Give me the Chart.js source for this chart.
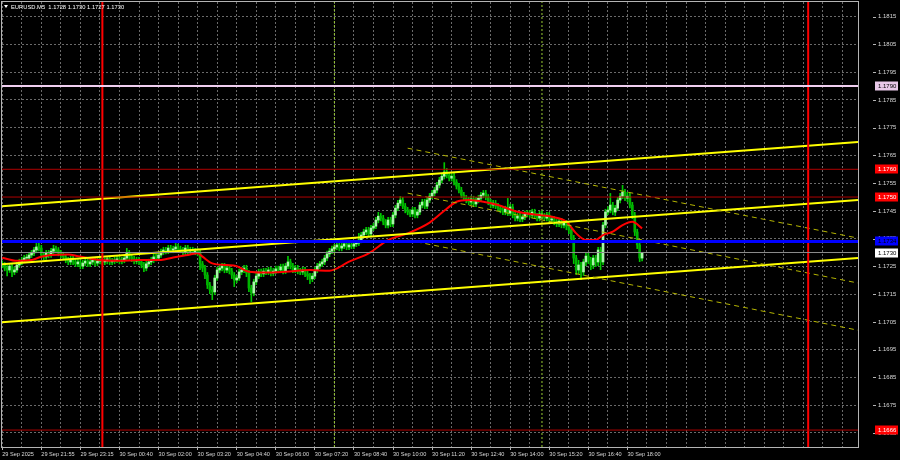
<!DOCTYPE html>
<html><head><meta charset="utf-8">
<script src="https://cdn.jsdelivr.net/npm/chart.js@4.4.1/dist/chart.umd.min.js"></script>
<style>html,body{margin:0;padding:0;background:#000;}#wrap{width:900px;height:460px;}</style>
</head><body><div id="wrap"><canvas id="c" width="900" height="460"></canvas></div>
<script>
// ---- DATA (EURUSD M5, one entry per bar) ----
const closes = [
1.17255,1.17244,1.17237,1.17251,1.17230,1.17237,1.17255,1.17266,1.17273,1.17280,
1.17280,1.17291,1.17298,1.17309,1.17320,1.17316,1.17291,1.17284,1.17298,1.17291,
1.17305,1.17313,1.17309,1.17298,1.17291,1.17284,1.17273,1.17266,1.17277,1.17266,
1.17259,1.17266,1.17251,1.17262,1.17269,1.17259,1.17266,1.17273,1.17262,1.17269,
1.17273,1.17266,1.17269,1.17277,1.17266,1.17269,1.17273,1.17277,1.17269,1.17273,
1.17280,1.17298,1.17284,1.17277,1.17269,1.17273,1.17266,1.17255,1.17244,1.17259,
1.17266,1.17273,1.17284,1.17280,1.17291,1.17302,1.17309,1.17305,1.17316,1.17309,
1.17313,1.17320,1.17313,1.17309,1.17302,1.17316,1.17305,1.17309,1.17302,1.17305,
1.17298,1.17259,1.17244,1.17219,1.17183,1.17165,1.17158,1.17208,1.17237,1.17244,
1.17251,1.17237,1.17244,1.17233,1.17219,1.17201,1.17208,1.17230,1.17237,1.17244,
1.17226,1.17172,1.17154,1.17194,1.17215,1.17230,1.17223,1.17233,1.17230,1.17237,
1.17226,1.17233,1.17241,1.17237,1.17248,1.17233,1.17251,1.17266,1.17251,1.17237,
1.17244,1.17233,1.17230,1.17237,1.17223,1.17215,1.17205,1.17215,1.17237,1.17251,
1.17259,1.17266,1.17280,1.17295,1.17305,1.17313,1.17320,1.17327,1.17316,1.17323,
1.17331,1.17320,1.17327,1.17323,1.17331,1.17334,1.17345,1.17363,1.17374,1.17381,
1.17367,1.17388,1.17395,1.17417,1.17431,1.17424,1.17410,1.17399,1.17417,1.17403,
1.17435,1.17460,1.17478,1.17489,1.17467,1.17453,1.17446,1.17439,1.17453,1.17435,
1.17446,1.17471,1.17482,1.17467,1.17489,1.17503,1.17514,1.17525,1.17543,1.17561,
1.17575,1.17590,1.17579,1.17568,1.17575,1.17554,1.17539,1.17525,1.17507,1.17496,
1.17489,1.17482,1.17493,1.17475,1.17489,1.17496,1.17507,1.17514,1.17500,1.17482,
1.17471,1.17478,1.17467,1.17460,1.17453,1.17446,1.17457,1.17442,1.17464,1.17435,
1.17424,1.17431,1.17421,1.17428,1.17439,1.17442,1.17435,1.17446,1.17431,1.17424,
1.17439,1.17431,1.17424,1.17435,1.17417,1.17421,1.17410,1.17403,1.17413,1.17399,
1.17406,1.17395,1.17381,1.17352,1.17280,1.17237,1.17255,1.17230,1.17266,1.17287,
1.17273,1.17255,1.17280,1.17266,1.17309,1.17266,1.17399,1.17446,1.17453,1.17471,
1.17446,1.17460,1.17489,1.17503,1.17518,1.17496,1.17503,1.17471,1.17435,1.17374,
1.17327,1.17280,1.17300];
const opens = [
1.17260,1.17255,1.17244,1.17237,1.17251,1.17230,1.17237,1.17255,1.17266,1.17273,
1.17280,1.17280,1.17291,1.17298,1.17309,1.17320,1.17316,1.17291,1.17284,1.17298,
1.17291,1.17305,1.17313,1.17309,1.17298,1.17291,1.17284,1.17273,1.17266,1.17277,
1.17266,1.17259,1.17266,1.17251,1.17262,1.17269,1.17259,1.17266,1.17273,1.17262,
1.17269,1.17273,1.17266,1.17269,1.17277,1.17266,1.17269,1.17273,1.17277,1.17269,
1.17273,1.17280,1.17298,1.17284,1.17277,1.17269,1.17273,1.17266,1.17255,1.17244,
1.17259,1.17266,1.17273,1.17284,1.17280,1.17291,1.17302,1.17309,1.17305,1.17316,
1.17309,1.17313,1.17320,1.17313,1.17309,1.17302,1.17316,1.17305,1.17309,1.17302,
1.17305,1.17298,1.17259,1.17244,1.17219,1.17183,1.17165,1.17158,1.17208,1.17237,
1.17244,1.17251,1.17237,1.17244,1.17233,1.17219,1.17201,1.17208,1.17230,1.17237,
1.17244,1.17226,1.17172,1.17154,1.17194,1.17215,1.17230,1.17223,1.17233,1.17230,
1.17237,1.17226,1.17233,1.17241,1.17237,1.17248,1.17233,1.17251,1.17266,1.17251,
1.17237,1.17244,1.17233,1.17230,1.17237,1.17223,1.17215,1.17205,1.17215,1.17237,
1.17251,1.17259,1.17266,1.17280,1.17295,1.17305,1.17313,1.17320,1.17327,1.17316,
1.17323,1.17331,1.17320,1.17327,1.17323,1.17331,1.17334,1.17345,1.17363,1.17374,
1.17381,1.17367,1.17388,1.17395,1.17417,1.17431,1.17424,1.17410,1.17399,1.17417,
1.17403,1.17435,1.17460,1.17478,1.17489,1.17467,1.17453,1.17446,1.17439,1.17453,
1.17435,1.17446,1.17471,1.17482,1.17467,1.17489,1.17503,1.17514,1.17525,1.17543,
1.17561,1.17575,1.17590,1.17579,1.17568,1.17575,1.17554,1.17539,1.17525,1.17507,
1.17496,1.17489,1.17482,1.17493,1.17475,1.17489,1.17496,1.17507,1.17514,1.17500,
1.17482,1.17471,1.17478,1.17467,1.17460,1.17453,1.17446,1.17457,1.17442,1.17464,
1.17435,1.17424,1.17431,1.17421,1.17428,1.17439,1.17442,1.17435,1.17446,1.17431,
1.17424,1.17439,1.17431,1.17424,1.17435,1.17417,1.17421,1.17410,1.17403,1.17413,
1.17399,1.17406,1.17395,1.17381,1.17352,1.17280,1.17237,1.17255,1.17230,1.17266,
1.17287,1.17273,1.17255,1.17280,1.17266,1.17309,1.17266,1.17399,1.17446,1.17453,
1.17471,1.17446,1.17460,1.17489,1.17503,1.17518,1.17496,1.17503,1.17471,1.17435,
1.17374,1.17327,1.17280];
const highs = [
1.17270,1.17264,1.17253,1.17261,1.17260,1.17247,1.17265,1.17276,1.17283,1.17290,
1.17293,1.17301,1.17308,1.17319,1.17333,1.17337,1.17326,1.17301,1.17308,1.17308,
1.17315,1.17326,1.17323,1.17318,1.17308,1.17301,1.17294,1.17283,1.17287,1.17286,
1.17276,1.17276,1.17275,1.17272,1.17279,1.17279,1.17276,1.17283,1.17283,1.17279,
1.17283,1.17283,1.17279,1.17286,1.17286,1.17279,1.17283,1.17287,1.17286,1.17283,
1.17290,1.17315,1.17308,1.17294,1.17286,1.17283,1.17283,1.17275,1.17265,1.17268,
1.17276,1.17283,1.17294,1.17294,1.17301,1.17312,1.17319,1.17319,1.17326,1.17326,
1.17323,1.17333,1.17330,1.17323,1.17319,1.17326,1.17326,1.17319,1.17319,1.17315,
1.17315,1.17308,1.17268,1.17254,1.17228,1.17193,1.17178,1.17218,1.17247,1.17254,
1.17261,1.17261,1.17254,1.17254,1.17243,1.17228,1.17218,1.17240,1.17247,1.17254,
1.17254,1.17236,1.17182,1.17204,1.17225,1.17240,1.17240,1.17243,1.17243,1.17247,
1.17247,1.17243,1.17251,1.17251,1.17258,1.17258,1.17261,1.17286,1.17276,1.17261,
1.17254,1.17254,1.17243,1.17247,1.17247,1.17232,1.17225,1.17225,1.17247,1.17261,
1.17268,1.17276,1.17290,1.17305,1.17315,1.17323,1.17330,1.17337,1.17337,1.17333,
1.17340,1.17340,1.17337,1.17337,1.17340,1.17344,1.17369,1.17373,1.17384,1.17391,
1.17391,1.17398,1.17405,1.17427,1.17445,1.17441,1.17434,1.17419,1.17427,1.17427,
1.17445,1.17470,1.17488,1.17502,1.17499,1.17477,1.17463,1.17455,1.17463,1.17463,
1.17455,1.17481,1.17492,1.17492,1.17499,1.17513,1.17524,1.17535,1.17553,1.17571,
1.17585,1.17624,1.17603,1.17589,1.17585,1.17585,1.17563,1.17549,1.17535,1.17517,
1.17506,1.17499,1.17503,1.17503,1.17499,1.17506,1.17517,1.17524,1.17524,1.17509,
1.17492,1.17488,1.17488,1.17477,1.17470,1.17463,1.17467,1.17495,1.17474,1.17474,
1.17445,1.17441,1.17441,1.17437,1.17449,1.17452,1.17452,1.17456,1.17456,1.17441,
1.17449,1.17449,1.17441,1.17445,1.17445,1.17431,1.17430,1.17419,1.17423,1.17423,
1.17416,1.17416,1.17405,1.17391,1.17362,1.17290,1.17272,1.17265,1.17276,1.17297,
1.17297,1.17283,1.17290,1.17290,1.17319,1.17319,1.17409,1.17456,1.17466,1.17513,
1.17481,1.17470,1.17499,1.17513,1.17542,1.17528,1.17517,1.17513,1.17481,1.17445,
1.17384,1.17337,1.17300];
const lows = [
1.17245,1.17234,1.17216,1.17228,1.17213,1.17220,1.17228,1.17246,1.17256,1.17264,
1.17270,1.17271,1.17282,1.17289,1.17299,1.17306,1.17281,1.17274,1.17275,1.17281,
1.17282,1.17296,1.17299,1.17288,1.17281,1.17274,1.17263,1.17256,1.17256,1.17256,
1.17249,1.17249,1.17241,1.17242,1.17252,1.17249,1.17249,1.17256,1.17252,1.17252,
1.17259,1.17256,1.17256,1.17259,1.17256,1.17256,1.17259,1.17263,1.17259,1.17259,
1.17263,1.17271,1.17274,1.17267,1.17259,1.17259,1.17256,1.17245,1.17231,1.17234,
1.17249,1.17256,1.17263,1.17270,1.17271,1.17282,1.17292,1.17295,1.17296,1.17299,
1.17299,1.17303,1.17303,1.17299,1.17292,1.17292,1.17295,1.17295,1.17292,1.17292,
1.17288,1.17238,1.17231,1.17206,1.17170,1.17152,1.17130,1.17148,1.17199,1.17227,
1.17234,1.17227,1.17227,1.17223,1.17206,1.17177,1.17191,1.17199,1.17220,1.17227,
1.17213,1.17159,1.17123,1.17144,1.17184,1.17206,1.17213,1.17213,1.17220,1.17220,
1.17216,1.17216,1.17224,1.17227,1.17227,1.17223,1.17224,1.17242,1.17241,1.17227,
1.17227,1.17223,1.17220,1.17220,1.17213,1.17202,1.17188,1.17195,1.17206,1.17227,
1.17242,1.17249,1.17256,1.17271,1.17285,1.17296,1.17303,1.17310,1.17306,1.17306,
1.17314,1.17310,1.17310,1.17314,1.17314,1.17321,1.17325,1.17335,1.17354,1.17364,
1.17357,1.17357,1.17379,1.17386,1.17407,1.17414,1.17400,1.17389,1.17389,1.17393,
1.17393,1.17425,1.17451,1.17469,1.17458,1.17443,1.17436,1.17429,1.17429,1.17425,
1.17425,1.17436,1.17461,1.17458,1.17458,1.17480,1.17494,1.17504,1.17515,1.17533,
1.17551,1.17565,1.17569,1.17558,1.17558,1.17544,1.17529,1.17515,1.17497,1.17487,
1.17479,1.17472,1.17472,1.17465,1.17465,1.17479,1.17487,1.17497,1.17490,1.17472,
1.17461,1.17461,1.17458,1.17451,1.17443,1.17436,1.17436,1.17433,1.17433,1.17425,
1.17414,1.17414,1.17411,1.17411,1.17418,1.17429,1.17425,1.17425,1.17422,1.17414,
1.17414,1.17421,1.17414,1.17414,1.17407,1.17407,1.17400,1.17393,1.17393,1.17389,
1.17389,1.17382,1.17368,1.17335,1.17260,1.17220,1.17224,1.17202,1.17217,1.17253,
1.17260,1.17238,1.17242,1.17249,1.17253,1.17238,1.17256,1.17389,1.17436,1.17443,
1.17436,1.17433,1.17451,1.17479,1.17494,1.17487,1.17483,1.17461,1.17422,1.17361,
1.17314,1.17267,1.17270];

// Moving average (bar index, value)
const maBars   = [0,6,12,16,20,27,31,35,40,48,56,65,70,76,80,82,86,92,96,101,108,116,126,134,142,150,158,166,175,182,186,191,197,203,211,220,225,231,235,239,243,246,250,254,258,262];
const maValues = [1.17281,1.17270,1.17273,1.17285,1.17291,1.17293,1.17287,1.17280,1.17273,1.17270,1.17273,1.17273,1.17282,1.17291,1.17297,1.17285,1.17261,1.17255,1.17251,1.17231,1.17228,1.17231,1.17237,1.17234,1.17267,1.17297,1.17345,1.17369,1.17408,1.17458,1.17483,1.17489,1.17483,1.17471,1.17447,1.17435,1.17429,1.17411,1.17369,1.17345,1.17345,1.17363,1.17375,1.17399,1.17411,1.17387];

// Axis ticks
const priceTicks = [1.1665,1.1675,1.1685,1.1695,1.1705,1.1715,1.1725,1.1735,1.1745,1.1755,1.1765,1.1775,1.1785,1.1795,1.1805,1.1815];
const timeLabelBars = [0,16,32,48,64,80,96,112,128,144,160,176,192,208,224,240,256];
const timeLabels = ['29 Sep 2025','29 Sep 21:55','29 Sep 23:15','30 Sep 00:40','30 Sep 02:00','30 Sep 03:20','30 Sep 04:40','30 Sep 06:00','30 Sep 07:20','30 Sep 08:40','30 Sep 10:00','30 Sep 11:20','30 Sep 12:40','30 Sep 14:00','30 Sep 15:20','30 Sep 16:40','30 Sep 18:00'];

// Horizontal levels
const levelPink = 1.1790;
const levelsRed = [1.1760, 1.1750, 1.1666];
const levelBlue = 1.1734;
const bidPrice = 1.1730;
// Vertical markers (bar index)
const redVerticalBars = [41, 330];
const greenVerticalBars = [136, 221];
// Trend channel (bar index at ends, prices)
const channelBars = [-0.1, 350.4];
const channelUpper = [1.17467, 1.17698];
const channelMiddle = [1.17258, 1.17489];
const channelLower = [1.17049, 1.17280];
const dashBars = [166, 350.4];
const dashUpper = [1.17676, 1.17352];
const dashMiddle = [1.17514, 1.17190];
const dashLower = [1.17345, 1.17020];
const titleText = 'EURUSD.M5  1.1728 1.1730 1.1727 1.1730';

// ---- CHART ----
const X_MIN = -0.1, X_MAX = 350.4, Y_MIN = 1.16599, Y_MAX = 1.18203;
const FONT = '"Liberation Sans", Arial, sans-serif';
const bars = closes.map((_, i) => i);
const gridBars = []; for (let b = 0; b <= 344; b += 8) gridBars.push(b);

function seg(xs, ys){ return [{x: xs[0], y: ys[0]}, {x: xs[1], y: ys[1]}]; }
function lineDs(data, color, width, dash, order){
  return {type:'line', data, borderColor: color, borderWidth: width, borderDash: dash || [],
    pointRadius: 0, fill: false, tension: 0, order: order || 1};
}
const hl = (p) => seg([X_MIN, X_MAX], [p, p]);
const vl = (b) => seg([b, b], [Y_MIN, Y_MAX]);

const datasets = [
  {type:'bar', data: bars.map(i => ({x: i, y: [lows[i], highs[i]]})), backgroundColor:'#00c800',
   barThickness: 1, grouped: false, borderWidth: 0, order: 20},
  {type:'bar', data: bars.map(i => ({x: i, y: [opens[i], closes[i]]})),
   backgroundColor: (c) => closes[c.dataIndex] >= opens[c.dataIndex] ? '#a8f8a8' : '#00b400',
   barThickness: 2, grouped: false, borderWidth: 0, minBarLength: 1, order: 19},
  Object.assign(lineDs(maBars.map((b, k) => ({x: b, y: maValues[k]})), '#ff0000', 2, null, 10), {cubicInterpolationMode:'monotone'}),
  lineDs(hl(levelPink), '#f0cff0', 2),
  ...levelsRed.map(p => lineDs(hl(p), '#b00000', 1)),
  lineDs(hl(bidPrice), '#8c8c8c', 1),
  lineDs(hl(levelBlue), '#0000ff', 3),
  ...greenVerticalBars.map(b => lineDs(vl(b), '#9acd32', 1, [2,2])),
  ...redVerticalBars.map(b => lineDs(vl(b), '#ff0000', 2)),
  lineDs(seg(dashBars, dashUpper), '#b4b400', 1, [5,4]),
  lineDs(seg(dashBars, dashMiddle), '#b4b400', 1, [5,4]),
  lineDs(seg(dashBars, dashLower), '#b4b400', 1, [5,4]),
  lineDs(seg(channelBars, channelUpper), '#ffff00', 2),
  lineDs(seg(channelBars, channelMiddle), '#ffff00', 2),
  lineDs(seg(channelBars, channelLower), '#ffff00', 2),
];

const overlay = {
  id: 'overlay',
  beforeDraw(chart){
    const c = chart.ctx; c.save(); c.fillStyle = '#000'; c.fillRect(0,0,chart.width,chart.height); c.restore();
  },
  afterDraw(chart){
    const c = chart.ctx, a = chart.chartArea, y = chart.scales.y;
    c.save();
    c.strokeStyle = '#b4b4b4'; c.lineWidth = 1;
    c.strokeRect(a.left - 0.5, a.top - 0.5, a.right - a.left + 1, a.bottom - a.top + 1);
    priceTicks.forEach(p => {
      const py = Math.round(y.getPixelForValue(p)) + 0.5;
      c.beginPath(); c.moveTo(a.right + 15, py); c.lineTo(a.right + 18, py); c.stroke();
    });
    const boxes = [[levelPink,'#e8c8e8','#000'],[levelsRed[0],'#ff0000','#fff'],[levelsRed[1],'#ff0000','#fff'],
                   [levelBlue,'#0000ff','#000'],[bidPrice,'#ffffff','#000'],[levelsRed[2],'#ff0000','#fff']];
    c.font = '6px ' + FONT; c.textBaseline = 'middle'; c.textAlign = 'left';
    boxes.forEach(([p, bg, fg]) => {
      const py = Math.round(y.getPixelForValue(p));
      c.fillStyle = bg; c.fillRect(a.right + 17, py - 4.5, 23, 9);
      c.fillStyle = fg; c.fillText(p.toFixed(4), a.right + 20, py + 0.5);
    });
    c.fillStyle = '#ffffff';
    c.beginPath(); c.moveTo(4, 5); c.lineTo(8, 5); c.lineTo(6, 8); c.closePath(); c.fill();
    c.font = '5.8px ' + FONT; c.textBaseline = 'middle';
    c.fillText(titleText, 11, 7);
    c.restore();
  }
};

Chart.defaults.font.family = FONT;
new Chart(document.getElementById('c'), {
  type: 'bar',
  data: { datasets },
  options: {
    responsive: false, animation: false, devicePixelRatio: 1, events: [],
    layout: { padding: { left: 2, top: 2, right: 0, bottom: 0 } },
    plugins: { legend: { display: false }, tooltip: { enabled: false } },
    scales: {
      x: {
        type: 'linear', min: X_MIN, max: X_MAX, offset: false, position: 'bottom',
        afterBuildTicks: (s) => { s.ticks = gridBars.map(v => ({ value: v })); },
        afterFit: (s) => { s.height = 13; s.paddingLeft = 0; s.paddingRight = 0; },
        ticks: {
          autoSkip: false, maxRotation: 0, minRotation: 0, align: 'start', padding: 1,
          color: '#d8d8d8', font: { size: 5.6 },
          callback: (v) => { const k = timeLabelBars.indexOf(v); return k >= 0 ? timeLabels[k] : ''; }
        },
        grid: { color: '#6a6a6a', offset: false, drawTicks: true, tickLength: 3,
          tickColor: (c) => (c.tick && timeLabelBars.includes(c.tick.value)) ? '#b4b4b4' : 'rgba(0,0,0,0)' },
        border: { display: false, dash: [2, 2] }
      },
      y: {
        type: 'linear', position: 'right', min: Y_MIN, max: Y_MAX,
        afterBuildTicks: (s) => { s.ticks = priceTicks.map(v => ({ value: v })); },
        afterFit: (s) => { s.width = 42; s.paddingTop = 0; s.paddingBottom = 0; },
        ticks: { color: '#d8d8d8', font: { size: 6 }, padding: 0, callback: (v) => v.toFixed(4) },
        grid: { color: '#6a6a6a', drawTicks: true, tickLength: 20, tickColor: 'rgba(0,0,0,0)' },
        border: { display: false, dash: [2, 2] }
      }
    }
  },
  plugins: [overlay]
});
</script>
</body></html>
